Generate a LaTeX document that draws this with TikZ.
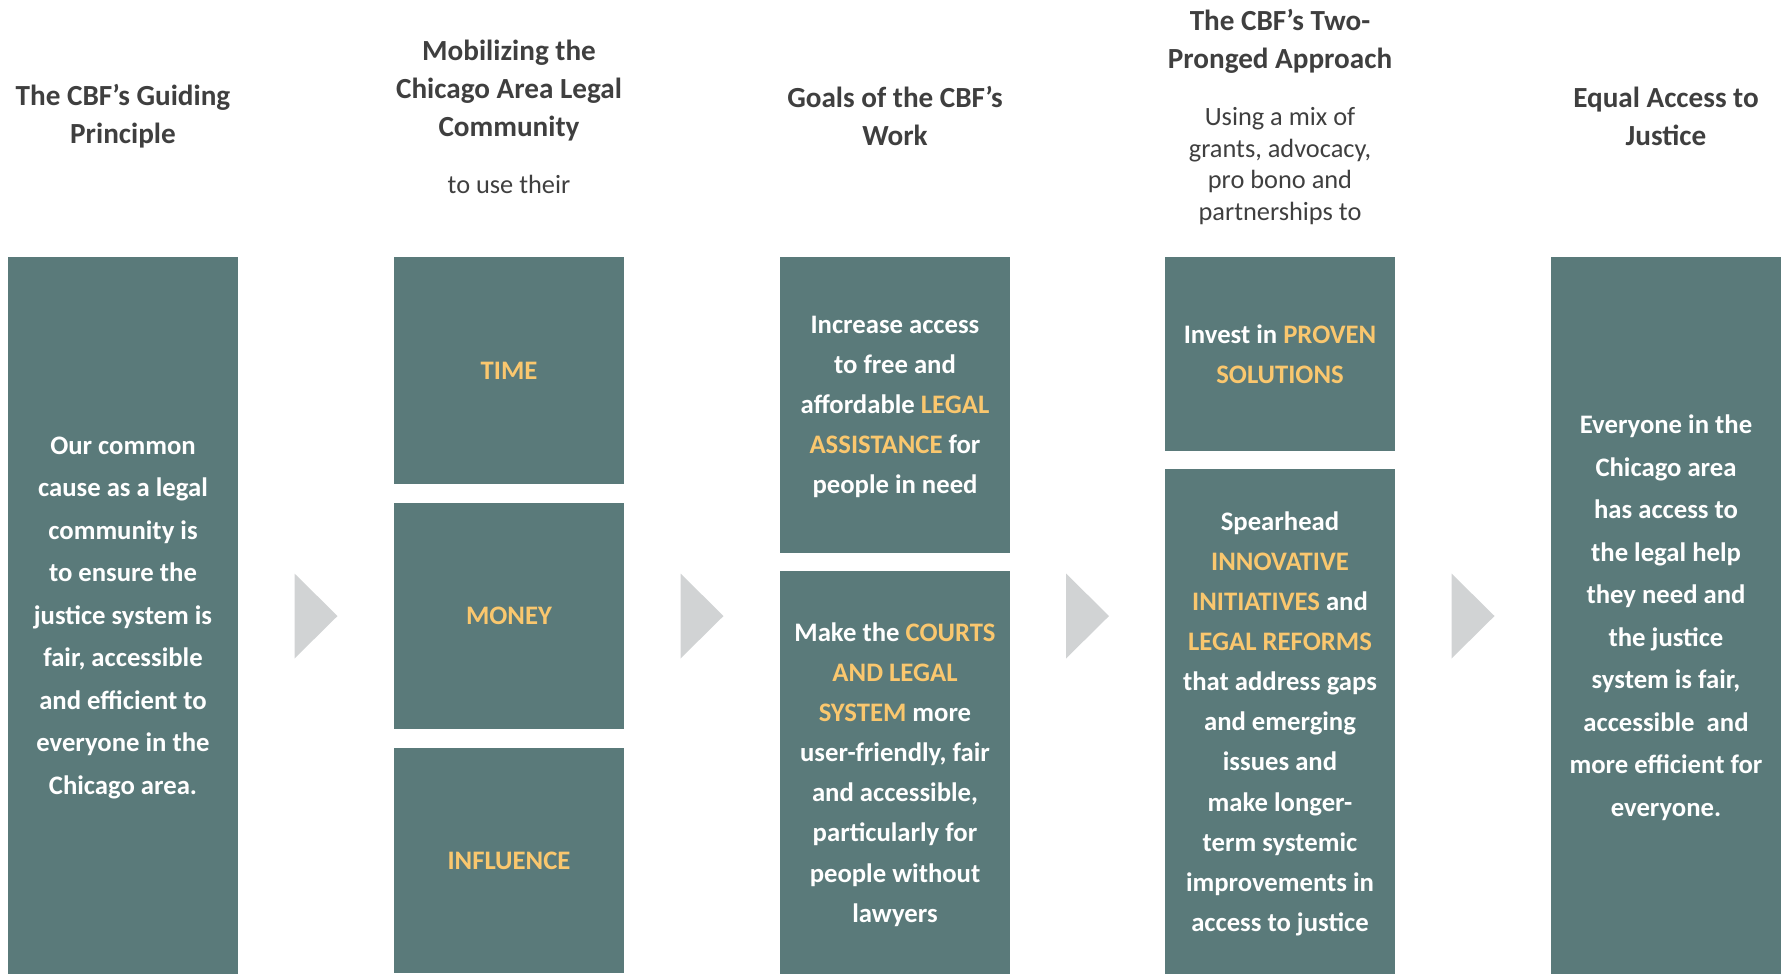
\documentclass[tikz,border=0pt]{standalone}
\usepackage{fontspec}
\setmainfont{Carlito}
\usetikzlibrary{positioning,calc}
\definecolor{boxteal}{HTML}{5A7A7A}
\definecolor{gold}{HTML}{FAC76E}
\definecolor{headgray}{HTML}{3F3F3F}
\definecolor{chevgray}{HTML}{D1D3D4}
\newcommand{\hl}[1]{\textcolor{gold}{#1}}
\begin{document}
\begin{tikzpicture}[x=0.1mm, y=-0.1mm,
    box/.style={fill=boxteal, text=white, font=\bfseries\fontsize{7.6}{12.1}\selectfont, align=center, inner sep=0pt, outer sep=0pt, text depth=0pt, minimum width=23mm, anchor=north},
    tight/.style={font=\bfseries\fontsize{7.6}{11.4}\selectfont},
    head/.style={text=headgray, font=\bfseries\fontsize{8.3}{10.8}\selectfont, align=center},
    sub/.style={text=headgray, font=\fontsize{7.5}{9.05}\selectfont, align=center},
    chev/.style={fill=chevgray}]
    \useasboundingbox (0,0) rectangle (1783,974);
    % headings
    \node[head] (h1) at (123,116) {The CBF’s Guiding\\Principle};
    \node[head] (h2) at (509,91) {Mobilizing the\\Chicago Area Legal\\Community};
    \node[sub] (s2) at (509,184) {to use their};
    \node[head] (h4) at (1280,41) {The CBF’s Two-\\Pronged Approach};
    \node[sub] (s4) at (1280,166) {Using a mix of\\grants, advocacy,\\pro bono and\\partnerships to};
    \node[head] (h3) at (895,116) {Goals of the CBF’s\\Work};
    \node[head] (h5) at (1666,116) {Equal Access to\\Justice};
    % columns
    \node[box, minimum height=71.7mm] (guide) at (123,257) {Our common\\cause as a legal\\community is\\to ensure the\\justice system is\\fair, accessible\\and efficient to\\everyone in the\\Chicago area.};
    \node[box, minimum height=22.7mm] (time) at (509,257) {\hl{TIME}};
    \node[box, minimum height=22.6mm, below=1.9mm of time] (money) {\hl{MONEY}};
    \node[box, minimum height=22.5mm, below=1.9mm of money] (influence) {\hl{INFLUENCE}};
    \node[box, tight, minimum height=29.6mm] (goala) at (895,257) {Increase access\\to free and\\affordable \hl{LEGAL}\\\hl{ASSISTANCE} for\\people in need};
    \node[box, tight, minimum height=40.3mm, below=1.8mm of goala] (goalb) {Make the \hl{COURTS}\\\hl{AND LEGAL}\\\hl{SYSTEM} more\\user-friendly, fair\\and accessible,\\particularly for\\people without\\lawyers};
    \node[box, tight, minimum height=19.4mm] (proven) at (1280,257) {Invest in \hl{PROVEN}\\\hl{SOLUTIONS}};
    \node[box, tight, minimum height=50.5mm, below=1.8mm of proven] (spear) {Spearhead\\\hl{INNOVATIVE}\\\hl{INITIATIVES} and\\\hl{LEGAL REFORMS}\\that address gaps\\and emerging\\issues and\\make longer-\\term systemic\\improvements in\\access to justice};
    \node[box, minimum height=71.7mm] (equal) at (1666,257) {Everyone in the\\Chicago area\\has access to\\the legal help\\they need and\\the justice\\system is fair,\\accessible\ \ and\\more efficient for\\everyone.};
    % chevrons
    \foreach \a/\b in {guide/money, money/goala, goala/proven, proven/equal}
        \fill[chev] ($(\a.east |- money)!0.5!(\b.west |- money)$) ++(-21.5,-42.5) -- ++(43,42.5) -- ++(-43,42.5) -- cycle;
\end{tikzpicture}
\end{document}
